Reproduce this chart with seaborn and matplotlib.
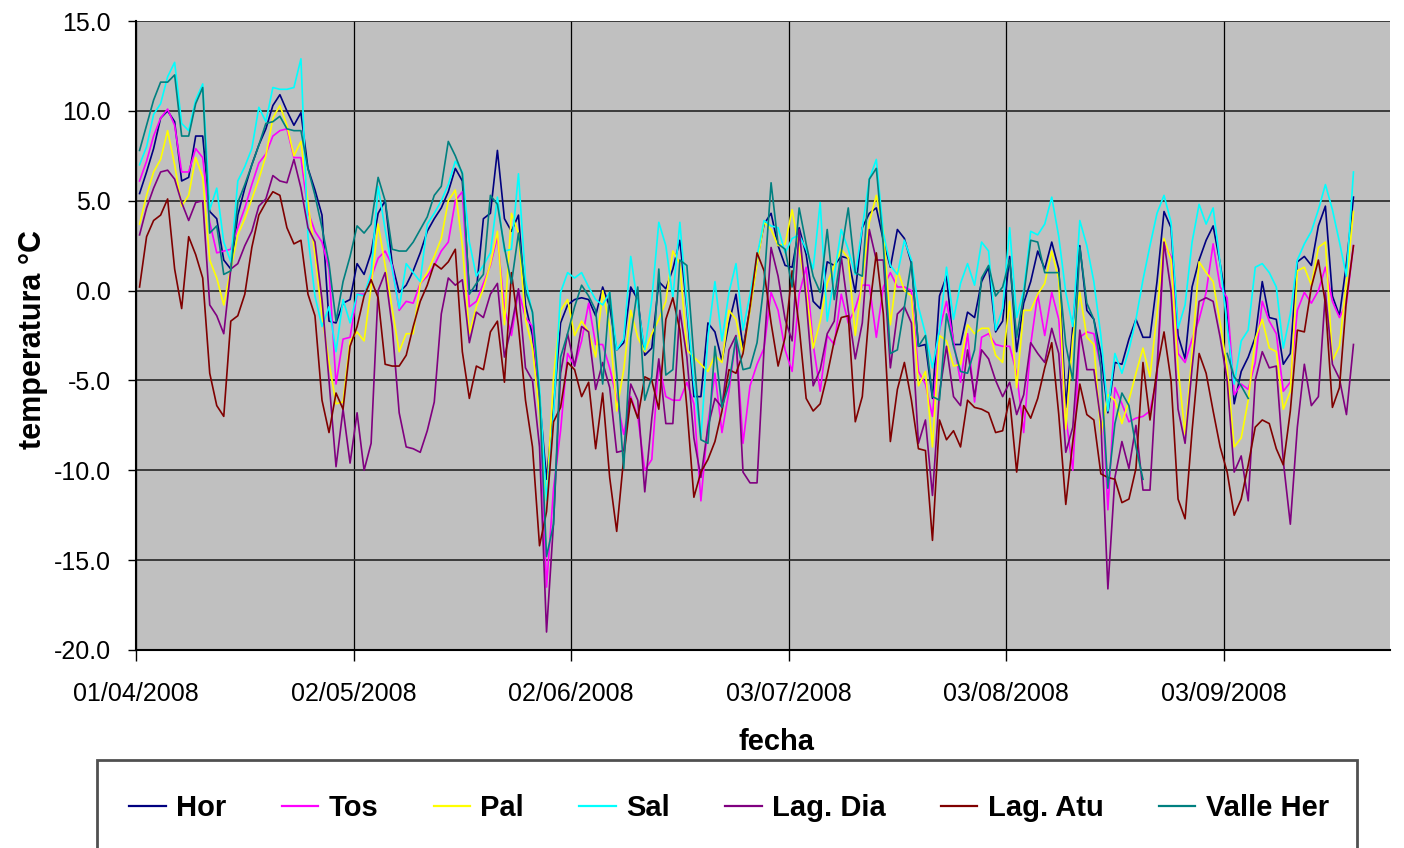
import numpy as np
import pandas as pd
import seaborn as sns
import matplotlib.pyplot as plt
import matplotlib.dates as mdates
from matplotlib.ticker import FormatStrFormatter
from matplotlib.patches import Rectangle

nan = np.nan

# Estaciones y colores (orden de la leyenda)
estaciones = ['Hor', 'Tos', 'Pal', 'Sal', 'Lag. Dia', 'Lag. Atu', 'Valle Her']
colores = ['#000080', '#FF00FF', '#FFFF00', '#00FFFF', '#800080', '#800000', '#008080']

fecha_inicio = '2008-04-01'
fechas_ticks = ['01/04/2008', '02/05/2008', '02/06/2008', '03/07/2008', '03/08/2008', '03/09/2008']

# Temperatura media diaria (°C), del 01/04/2008 al 21/09/2008
hor = [5.4, 6.6, 7.9, 9.6, 10.0, 9.4, 6.1, 6.3, 8.6, 8.6, 4.4, 4.0, 1.7, 1.2, 4.2, 5.7, 7.0, 8.1, 9.0, 10.3, 10.9, 10.0, 9.2, 9.9, 6.8, 5.6, 4.2,
       -1.7, -1.8, -0.7, -0.5, 1.5, 0.9, 2.1, 4.3, 5.0, 1.5, -0.1, 0.3, 1.1, 2.1, 3.3, 4.0, 4.6, 5.5, 6.8, 6.1, 0.0, 0.0, 4.0, 4.3, 7.8,
       4.0, 3.3, 4.2, -0.8, -2.5, -6.0, -10.5, -6.5, -1.8, -0.8, -0.5, -0.4, -0.5, -1.4, 0.2, -0.9, -3.3, -2.9, 0.2, -0.5, -3.6, -3.2, 0.5, 0.1, 1.2, 2.8, -1.0,
       -5.9, -5.9, -1.8, -2.3, -3.9, -1.8, -0.2, -3.2, -1.0, 1.7, 3.7, 4.3, 2.5, 1.4, 1.3, 3.5, 2.0, -0.6, -1.0, 1.6, 1.4, 1.9, 1.8, -0.1, 3.5, 4.3, 4.6,
       2.8, 1.3, 3.4, 2.9, 1.5, -3.1, -3.0, -6.0, -0.3, 0.8, -3.0, -3.0, -1.2, -1.5, 0.5, 1.3, -2.3, -1.7, 1.9, -3.4, -0.7, 0.5, 2.2, 1.2, 2.7, 1.2, -6.5,
       -2.0, 2.5, -1.1, -1.6, -3.5, -6.8, -4.0, -4.1, -2.7, -1.6, -2.6, -2.6, 0.5, 4.4, 3.5, -2.5, -3.8, 0.2, 1.7, 2.8, 3.6, 1.5, -1.0, -6.3, -4.5, -3.7, -2.6,
       0.5, -1.5, -1.6, -4.1, -3.5, 1.6, 1.9, 1.4, 3.6, 4.7, -0.3, -1.4, 1.5, 5.2]

tos = [6.1, 7.2, 8.6, 9.6, 10.1, 9.2, 6.6, 6.6, 7.9, 7.4, 3.8, 2.1, 2.2, 2.3, 3.5, 4.6, 5.9, 7.1, 7.6, 8.6, 8.9, 9.0, 7.4, 7.4, 4.4, 3.3, 2.7,
       1.2, -5.2, -2.7, -2.6, -0.2, -0.2, 0.7, 1.8, 2.2, 1.4, -1.1, -0.6, -0.7, 0.4, 0.8, 1.4, 2.2, 2.7, 5.0, 5.5, -0.9, -0.6, 0.4, 1.4, 3.0,
       -1.0, -2.5, 0.0, -1.5, -2.0, -6.0, -16.5, -11.0, -7.8, -3.5, -4.2, -2.8, -0.7, -3.0, -3.0, -4.3, -6.0, -8.0, -5.9, -7.0, -10.0, -9.4, -4.0, -5.9, -6.1, -6.1, -5.1,
       -6.3, -11.7, -7.4, -4.6, -7.9, -5.6, -2.6, -8.5, -5.3, -4.1, -3.2, -0.1, -1.1, -3.3, -4.5, -0.2, 1.3, -3.0, -5.6, -2.5, -3.0, -0.2, -1.8, -1.0, 0.3, 0.3, -2.6,
       0.2, 1.0, 0.2, 0.2, 0.0, -4.5, -5.2, -7.0, -2.2, -0.6, -2.8, -5.1, -2.4, -6.2, -2.6, -2.4, -3.0, -3.1, -3.1, -4.6, -7.9, -3.0, -0.2, -2.5, -0.1, -1.6, -7.0,
       -10.0, -2.6, -2.3, -2.4, -4.3, -12.2, -5.4, -6.3, -7.3, -7.1, -7.0, -6.7, -4.8, 2.6, 1.9, -3.5, -4.0, -2.7, -1.6, -0.1, 2.6, 0.2, -0.4, -5.8, -5.2, -5.5, -4.0,
       -0.6, -1.7, -2.4, -5.6, -5.1, -1.1, -0.1, -0.7, 0.0, 1.3, -0.6, -1.5, -0.7, 2.5]

pal = [3.7, 5.3, 6.6, 7.3, 8.9, 7.0, 4.7, 5.3, 7.4, 6.3, 1.7, 0.7, -0.8, 1.2, 3.1, 4.0, 5.1, 6.2, 7.5, 9.6, 10.3, 9.2, 7.5, 8.3, 4.9, 2.0, -1.4,
       -4.0, -6.3, -6.2, -2.8, -2.3, -2.8, 0.2, 3.7, 1.4, -1.0, -3.4, -2.4, -2.4, 0.4, 1.0, 1.9, 2.9, 5.0, 5.6, 2.5, -2.4, -0.9, 0.1, 1.5, 3.3,
       -1.9, 4.3, 3.2, -1.6, -3.2, -6.9, -11.7, -4.8, -1.1, -0.5, -2.5, -1.7, -2.3, -3.7, 0.0, -2.0, -6.7, -4.4, -1.1, -2.6, -3.4, -2.4, -1.6, -0.6, 2.2, 1.5, -3.3,
       -3.7, -4.1, -4.5, -3.6, -4.0, -1.1, -1.6, -3.5, -1.1, 1.5, 3.8, 3.4, 2.5, 2.6, 4.5, 2.3, 0.0, -3.2, -1.7, 0.4, 1.4, 2.3, 1.8, -2.5, 0.6, 3.8, 5.3,
       3.4, -1.9, 1.2, 0.0, -0.3, -5.3, -4.5, -8.7, -2.5, -2.8, -4.2, -4.1, -1.9, -2.4, -2.1, -2.1, -3.6, -4.0, -0.6, -5.4, -1.1, -1.1, -0.2, 0.4, 2.2, 0.6, -7.7,
       -2.6, -0.1, -2.6, -3.0, -8.0, -5.8, -6.1, -7.4, -6.1, -4.6, -3.2, -4.8, -1.3, 2.9, 1.7, -4.3, -8.0, -3.5, 1.6, 1.0, 0.5, -1.8, -4.3, -8.7, -8.2, -6.1, -2.7,
       -1.6, -3.2, -3.4, -6.6, -5.6, 1.1, 1.3, 0.3, 2.4, 2.7, -3.9, -3.1, 0.5, 4.4]

sal = [7.0, 8.0, 9.8, 10.4, 11.9, 12.7, 9.3, 8.9, 10.6, 11.5, 4.5, 5.7, 2.7, 1.6, 6.1, 6.9, 7.9, 10.2, 9.4, 11.3, 11.2, 11.2, 11.3, 12.9, 3.0, -0.3, -2.0,
       -0.9, -3.4, -0.5, -1.8, -0.2, -0.3, 1.0, 5.8, 3.4, 1.2, -1.0, 1.5, 1.0, 0.5, 3.7, 4.3, 5.0, 5.9, 7.2, 6.6, 2.7, 0.8, 1.4, 2.1, 5.2,
       2.2, 2.3, 6.5, 0.6, -1.3, -5.4, -11.7, -6.9, -0.1, 1.0, 0.7, 1.0, 0.2, -0.5, -0.8, -0.1, -3.3, -2.7, 1.9, -0.8, -3.3, -0.5, 3.8, 2.5, -0.4, 3.8, -0.8,
       -5.2, -8.2, -2.6, 0.5, -2.8, -0.1, 1.5, -2.2, -0.2, 1.9, 3.9, 3.6, 3.5, 2.1, 2.9, 3.1, 2.3, 1.2, 4.9, -1.7, 0.8, 3.4, 2.3, 0.9, 3.5, 6.2, 7.3,
       3.2, 1.4, 0.9, 2.8, 1.7, -0.9, -2.4, -4.3, -2.2, 1.3, -1.6, 0.4, 1.5, 0.3, 2.7, 2.2, -2.2, -1.0, 3.5, -1.5, 0.0, 3.3, 3.1, 3.7, 5.2, 3.0, -0.1,
       -2.0, 3.9, 2.5, 0.5, -2.5, -6.7, -3.5, -4.6, -3.3, -1.6, 0.6, 2.5, 4.3, 5.3, 3.8, -2.1, -0.8, 2.7, 4.8, 3.7, 4.6, 1.5, -2.0, -5.2, -2.8, -2.2, 1.3,
       1.5, 1.0, 0.2, -3.2, -1.3, 1.7, 2.6, 3.3, 4.5, 5.9, 4.5, 2.7, 0.8, 6.6]

lag_dia = [3.1, 4.6, 5.7, 6.6, 6.7, 6.2, 4.9, 3.9, 4.9, 5.0, -0.8, -1.4, -2.4, 1.2, 1.5, 2.5, 3.3, 4.7, 5.1, 6.4, 6.1, 6.0, 7.3, 5.7, 3.5, 2.7, -0.5,
           -5.0, -9.8, -6.6, -9.6, -6.8, -10.0, -8.5, 0.0, 1.0, -2.0, -6.8, -8.7, -8.8, -9.0, -7.8, -6.2, -1.3, 0.7, 0.3, 0.6, -2.9, -1.2, -1.5, -0.2, 0.4,
           -3.7, -2.0, 0.1, -4.3, -5.0, -8.7, -19.0, -12.9, -4.6, -2.4, -4.2, -2.0, -2.3, -5.5, -4.0, -5.4, -9.0, -8.9, -5.2, -6.1, -11.2, -7.1, -3.8, -7.4, -7.4, -1.1, -3.7,
           -8.2, -10.4, -7.6, -6.0, -6.5, -3.3, -2.5, -10.1, -10.7, -10.7, -3.2, 2.4, 0.8, -1.6, -2.8, 3.4, -0.5, -5.3, -4.4, -2.4, -1.7, 1.9, -1.1, -3.8, -1.8, 3.4, 1.7,
           1.7, -4.3, -1.3, -0.9, -1.8, -8.5, -7.2, -11.4, -5.7, -3.1, -5.9, -6.4, -3.3, -5.9, -3.3, -3.8, -5.0, -5.9, -5.1, -6.9, -5.8, -2.9, -3.5, -4.0, -2.1, -3.5, -9.0,
           -7.6, -2.2, -4.4, -4.4, -7.3, -16.6, -10.4, -8.4, -9.9, -7.5, -11.1, -11.1, -4.3, 2.7, 0.0, -6.6, -8.5, -4.3, -0.6, -0.4, -0.6, -2.6, -5.0, -10.1, -9.2, -11.7, -5.0,
           -3.4, -4.3, -4.2, -9.5, -13.0, -7.6, -4.1, -6.4, -5.9, -0.1, -4.1, -4.9, -6.9, -3.0]

lag_atu = [0.2, 3.0, 3.9, 4.2, 5.1, 1.2, -1.0, 3.0, 2.0, 0.7, -4.6, -6.4, -7.0, -1.7, -1.4, -0.2, 2.4, 4.2, 4.9, 5.5, 5.3, 3.5, 2.6, 2.8, -0.2, -1.4, -6.1,
           -7.9, -5.7, -6.6, -3.1, -2.0, -0.3, 0.6, -0.4, -4.1, -4.2, -4.2, -3.6, -2.0, -0.6, 0.3, 1.5, 1.2, 1.6, 2.3, -3.4, -6.0, -4.2, -4.4, -2.3, -1.7,
           -5.1, 1.0, -2.0, -6.1, -8.7, -14.2, -12.3, -7.3, -6.5, -4.0, -4.4, -5.9, -5.1, -8.8, -5.7, -10.4, -13.4, -9.3, -6.0, -7.1, -4.8, -5.0, -6.6, -1.6, -0.4, -2.2, -6.5,
           -11.5, -10.1, -9.4, -8.4, -6.7, -4.4, -4.6, -3.5, -0.9, 2.1, 1.1, -1.8, -4.2, -2.6, 1.1, -2.0, -6.0, -6.7, -6.3, -4.7, -2.8, -1.5, -1.4, -7.3, -5.9, -1.1, 2.1,
           -1.3, -8.4, -5.5, -4.0, -6.1, -8.8, -8.9, -13.9, -7.2, -8.3, -7.8, -8.7, -6.1, -6.5, -6.6, -6.8, -7.9, -7.8, -6.0, -10.1, -6.4, -7.1, -6.0, -4.3, -2.9, -6.9, -11.9,
           -8.4, -5.2, -6.9, -7.2, -10.2, -10.4, -10.5, -11.8, -11.6, -9.9, -4.0, -7.2, -4.4, -2.3, -5.0, -11.6, -12.7, -7.8, -3.5, -4.6, -6.7, -8.7, -10.1, -12.5, -11.6, -9.7, -7.6,
           -7.2, -7.4, -8.8, -9.7, -6.7, -2.2, -2.3, 0.2, 1.7, -0.7, -6.5, -5.4, -0.5, 2.5]

valle_her = [7.8, 9.2, 10.6, 11.6, 11.6, 12.0, 8.6, 8.6, 10.4, 11.3, 3.2, 3.6, 0.9, 1.1, 4.9, 5.9, 7.0, 8.1, 9.3, 9.4, 9.7, 9.0, 8.9, 8.9, 6.8, 5.3, 3.5,
             1.5, -1.7, 0.5, 1.9, 3.6, 3.2, 3.7, 6.3, 5.0, 2.3, 2.2, 2.2, 2.7, 3.4, 4.1, 5.3, 5.8, 8.3, 7.5, 6.5, -0.2, 0.4, 0.9, 5.3, 4.8,
             2.4, 0.4, 3.2, 0.0, -1.2, -5.9, -14.8, -13.0, -3.7, -2.4, -0.9, 0.3, -0.3, -1.1, -5.2, -0.1, -4.6, -9.9, -2.6, 0.2, -6.1, -4.8, 1.2, -4.7, -4.4, 1.7, 1.4,
             -3.7, -8.3, -8.5, -3.1, -6.5, -5.2, -2.6, -4.4, -4.3, -2.9, 0.4, 6.0, 2.6, 2.3, 0.2, 4.6, 2.6, 0.8, -0.1, 3.4, -0.5, 2.1, 4.6, 1.0, 0.8, 6.2, 6.8,
             2.5, -3.5, -3.3, -0.9, 1.6, -3.1, -2.5, -5.9, -6.1, -1.3, -3.1, -4.5, -4.6, -3.3, 0.7, 1.4, -0.3, 0.2, 1.7, -2.6, -0.3, 2.8, 2.7, 1.0, 1.0, 1.0, -3.0,
             -5.0, 2.4, -0.7, -1.6, -4.3, -11.0, -7.4, -5.7, -6.4, -8.7, -10.5, nan, nan, nan, nan, nan, nan, nan, nan, nan, nan, nan,
             -3.5, -4.8, -5.3, -6.0, nan, nan, nan, nan, nan, nan, nan, nan, nan, nan, nan, nan, nan, nan, nan]

series = [hor, tos, pal, sal, lag_dia, lag_atu, valle_her]
fechas = pd.date_range(fecha_inicio, periods=len(hor), freq='D')

# Tabla larga; los huecos sin datos separan tramos para no unirlos
frames = []
for nombre, valores in zip(estaciones, series):
    d = pd.DataFrame({'fecha': fechas + pd.Timedelta(hours=12), 'temp': valores})
    d['estacion'] = nombre
    d['tramo'] = nombre + '_' + d['temp'].isna().cumsum().astype(str)
    frames.append(d.dropna())
datos = pd.concat(frames, ignore_index=True)

plt.rcParams['axes.unicode_minus'] = False
plt.rcParams['font.family'] = ['Liberation Sans', 'DejaVu Sans']

fig, ax = plt.subplots(figsize=(14.04, 8.48), dpi=100)
fig.subplots_adjust(left=0.0969, right=0.990, top=0.9752, bottom=0.2335)
ax.set_facecolor('#C0C0C0')

sns.lineplot(data=datos, x='fecha', y='temp', hue='estacion', hue_order=estaciones,
             palette=colores, units='tramo', estimator=None, linewidth=1.2, ax=ax)

# Ejes
ax.set_ylim(-20, 15)
ax.set_yticks(np.arange(-20, 16, 5))
ax.yaxis.set_major_formatter(FormatStrFormatter('%.1f'))
x0 = pd.Timestamp(fecha_inicio)
ax.set_xlim(mdates.date2num(x0), mdates.date2num(x0 + pd.Timedelta(days=178.7)))
ticks = pd.to_datetime(fechas_ticks, dayfirst=True)
ax.set_xticks(mdates.date2num(ticks))
ax.set_xticklabels(fechas_ticks)

ax.grid(axis='y', color='#303030', linewidth=1.3)
ax.grid(axis='x', color='black', linewidth=0.9)
ax.set_axisbelow(True)
for s in ['top', 'right']:
    ax.spines[s].set_visible(False)
for s in ['left', 'bottom']:
    ax.spines[s].set_color('black')
    ax.spines[s].set_linewidth(1.5)

ax.tick_params(axis='x', direction='out', length=8, width=1, labelsize=18, pad=15)
ax.tick_params(axis='y', direction='out', length=6, width=1, labelsize=18, pad=12)

ax.set_xlabel('fecha', fontsize=21, fontweight='bold')
ax.xaxis.set_label_coords(0.511, -0.124)
ax.set_ylabel('temperatura °C', fontsize=22, fontweight='bold')
ax.yaxis.set_label_coords(-0.0706, 0.493)

# Leyenda en caja inferior
handles, labels = ax.get_legend_handles_labels()
ax.get_legend().remove()
leg = fig.legend(handles, labels, loc='center', bbox_to_anchor=(729 / 1404, 1 - 808 / 848),
                 ncol=7, frameon=False, prop={'weight': 'bold', 'size': 21},
                 handlelength=1.25, handletextpad=0.35, columnspacing=1.9)
for h in leg.get_lines():
    h.set_linewidth(1.6)

caja = Rectangle((97 / 1404, -0.05), (1357 - 97) / 1404, (848 - 760) / 848 + 0.05,
                 transform=fig.transFigure, fill=False, edgecolor='#505050', linewidth=2)
fig.add_artist(caja)

fig.savefig('out.png', dpi=100)
